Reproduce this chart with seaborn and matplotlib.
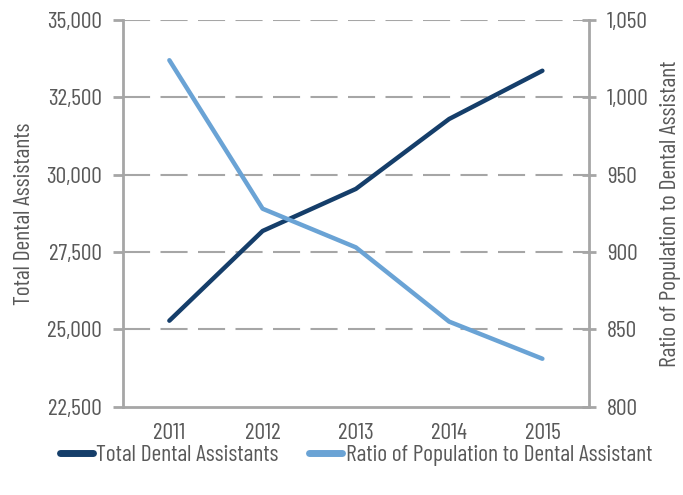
import numpy as np
import pandas as pd
import seaborn as sns
import matplotlib.pyplot as plt

years = ['2011', '2012', '2013', '2014', '2015']
total_assistants = [25280, 28180, 29540, 31800, 33360]
pop_ratio = [1024, 928, 903, 855, 831]

sns.set_theme(style='white')
plt.rcParams['font.family'] = ['Barlow Condensed', 'DejaVu Sans']

grey = '#A6A6A6'
txt = '#595959'
dark = '#153E6A'
light = '#6AA3D5'
fs = 17

df = pd.DataFrame({'year': years, 'total': total_assistants, 'ratio': pop_ratio})

fig = plt.figure(figsize=(6.83, 4.95), dpi=100)
ax = fig.add_axes([0.1797, 0.1784, 0.8624 - 0.1797, 0.9596 - 0.1784])
ax2 = ax.twinx()

sns.lineplot(data=df, x='year', y='total', ax=ax, color=dark, linewidth=3.2,
             label='Total Dental Assistants', legend=False)
sns.lineplot(data=df, x='year', y='ratio', ax=ax2, color=light, linewidth=3.2,
             label='Ratio of Population to Dental Assistant', legend=False)

ax.set_xlim(-0.5, 4.5)
ax.set_ylim(22500, 35000)
ax2.set_ylim(800, 1050)
lt = np.arange(22500, 35001, 2500)
rt = np.arange(800, 1051, 50)
ax.set_yticks(lt)
ax2.set_yticks(rt)
ax.set_yticklabels([f'{v:,}' for v in lt])
ax2.set_yticklabels([f'{v:,}' for v in rt])

ax.set_xticks(np.arange(-0.5, 4.6, 1))
ax.set_xticklabels([''] * 6)
ax.set_xticks(range(5), minor=True)
ax.set_xticklabels(years, minor=True)
ax.tick_params(axis='x', which='minor', length=0, pad=12, labelsize=fs, labelcolor=txt)
ax.tick_params(axis='x', which='major', length=7, width=2, color=grey, direction='out')
ax.tick_params(axis='y', length=7, width=2, color=grey, direction='out', labelsize=fs,
               labelcolor=txt, pad=8, left=True)
ax2.tick_params(axis='y', length=10, width=2, color=grey, direction='inout', labelsize=fs,
                labelcolor=txt, pad=8, right=True)

ax.yaxis.grid(True, color=grey, linewidth=1.5, linestyle=(0, (13, 5)))
ax.yaxis.get_major_ticks()[0].gridline.set_visible(False)
ax.set_axisbelow(True)
ax.set_xlabel('')
ax.set_ylabel('Total Dental Assistants', fontsize=fs, color=txt, labelpad=8)
ax2.set_ylabel('Ratio of Population to Dental Assistant', fontsize=fs, color=txt, labelpad=8)

for a in (ax, ax2):
    for sp in a.spines.values():
        sp.set_visible(False)
for sp in (ax.spines['left'], ax.spines['bottom'], ax2.spines['right']):
    sp.set_visible(True)
    sp.set_color(grey)
    sp.set_linewidth(2)

h1, l1 = ax.get_legend_handles_labels()
h2, l2 = ax2.get_legend_handles_labels()
leg = fig.legend(h1 + h2, l1 + l2, loc='center', bbox_to_anchor=(0.521, 0.08), ncol=2,
                 frameon=False, fontsize=fs, handlelength=1.4, handletextpad=0.15,
                 columnspacing=1.3)
for t in leg.get_texts():
    t.set_color(txt)
for ln in leg.get_lines():
    ln.set_linewidth(5)
    ln.set_solid_capstyle('round')

fig.savefig('out.png', dpi=100)
